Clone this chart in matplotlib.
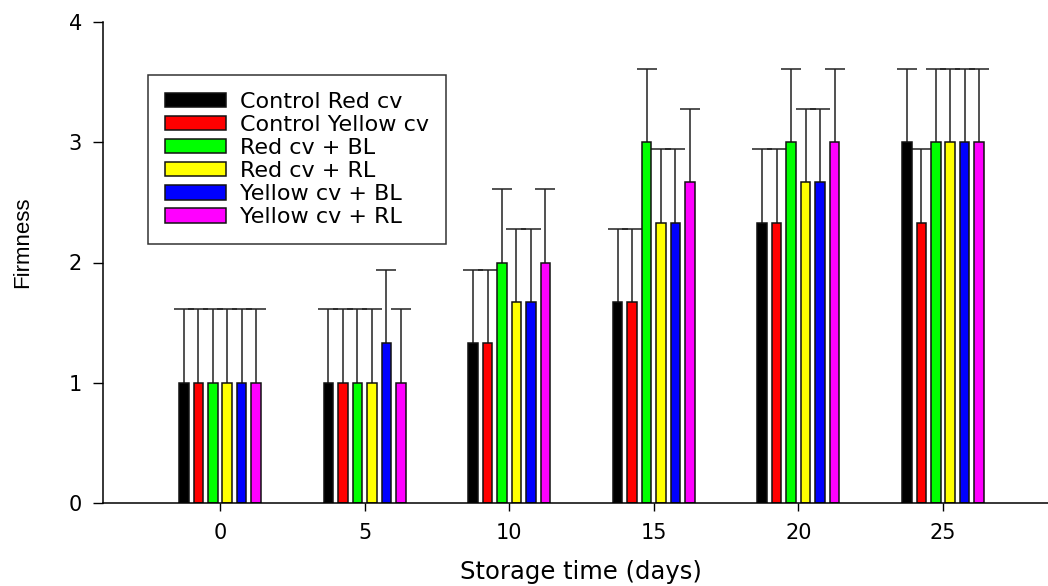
import matplotlib
matplotlib.use("Agg")
import matplotlib.pyplot as plt
import numpy as np

days = ["0", "5", "10", "15", "20", "25"]
series_names = ["Control Red cv", "Control Yellow cv", "Red cv + BL",
                "Red cv + RL", "Yellow cv + BL", "Yellow cv + RL"]
colors = ["#000000", "#FF0000", "#00FF00", "#FFFF00", "#0000FF", "#FF00FF"]

control_red = [1.0, 1.0, 1.33, 1.67, 2.33, 3.0]
control_yellow = [1.0, 1.0, 1.33, 1.67, 2.33, 2.33]
red_bl = [1.0, 1.0, 2.0, 3.0, 3.0, 3.0]
red_rl = [1.0, 1.0, 1.67, 2.33, 2.67, 3.0]
yellow_bl = [1.0, 1.33, 1.67, 2.33, 2.67, 3.0]
yellow_rl = [1.0, 1.0, 2.0, 2.67, 3.0, 3.0]

err_control_red = [0.61, 0.61, 0.61, 0.61, 0.61, 0.61]
err_control_yellow = [0.61, 0.61, 0.61, 0.61, 0.61, 0.61]
err_red_bl = [0.61, 0.61, 0.61, 0.61, 0.61, 0.61]
err_red_rl = [0.61, 0.61, 0.61, 0.61, 0.61, 0.61]
err_yellow_bl = [0.61, 0.61, 0.61, 0.61, 0.61, 0.61]
err_yellow_rl = [0.61, 0.61, 0.61, 0.61, 0.61, 0.61]

values = [control_red, control_yellow, red_bl, red_rl, yellow_bl, yellow_rl]
errors = [err_control_red, err_control_yellow, err_red_bl, err_red_rl,
          err_yellow_bl, err_yellow_rl]

plt.rcParams['font.family'] = ['DejaVu Sans']

W, H = 1048, 586
fig = plt.figure(figsize=(W / 100, H / 100), dpi=100)
ax = fig.add_axes([103 / W, 1 - 503 / H, 1 - 103 / W, (503 - 22) / H])

x = np.arange(len(days))
pitch = 0.1
width = 0.066
for k, (vals, errs, c, name) in enumerate(zip(values, errors, colors, series_names)):
    pos = x + (k - 2.5) * pitch
    ax.bar(pos, vals, width=width, color=c, edgecolor="#111111",
           linewidth=1.1, label=name, zorder=2)
    eb = ax.errorbar(pos, vals, yerr=[np.zeros(len(vals)), errs], fmt="none",
                     ecolor="#222222", elinewidth=1.1, capsize=7.2,
                     capthick=1.1, zorder=1)
    caps = eb[1]
    if len(caps) == 2:
        caps[0].set_visible(False)

ax.set_xlim(-0.809, 5.726)
ax.set_ylim(0, 4)
ax.set_xticks(x)
ax.set_xticklabels(days)
ax.set_yticks([0, 1, 2, 3, 4])
ax.spines['top'].set_visible(False)
ax.spines['right'].set_visible(False)
ax.spines['left'].set_linewidth(1.1)
ax.spines['bottom'].set_linewidth(1.1)
ax.tick_params(axis='y', length=7.2, width=1.0, pad=8, labelsize=15)
ax.tick_params(axis='x', length=5.5, width=1.0, pad=9, labelsize=15)

fig.text(23 / W, 1 - 242 / H, "Firmness", rotation=90, ha="center",
         va="center", fontsize=16, family="Liberation Sans")
fig.text(581 / W, 1 - 572 / H, "Storage time (days)", ha="center",
         va="center", fontsize=17.5)

leg = fig.legend(loc="upper left", bbox_to_anchor=(148 / W, 1 - 75 / H),
                 fontsize=16, frameon=True, fancybox=False,
                 edgecolor="black", handlelength=2.75, handleheight=0.63,
                 handletextpad=0.65, labelspacing=0.14, borderpad=0.75,
                 borderaxespad=0)
leg.get_frame().set_linewidth(1.1)

fig.savefig("out.png", dpi=100)
